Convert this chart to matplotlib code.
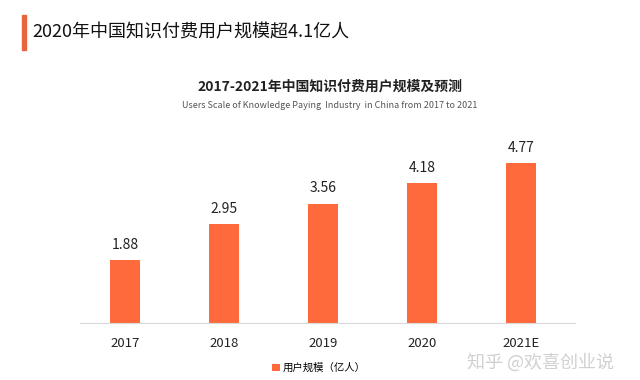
import matplotlib.pyplot as plt

plt.rcParams['font.family'] = ['Noto Sans CJK SC', 'DejaVu Sans']

# 数据
years = ['2017', '2018', '2019', '2020', '2021E']
users = [1.88, 2.95, 3.56, 4.18, 4.77]
bar_color = '#FF6A3C'

fig = plt.figure(figsize=(6.4, 3.8), dpi=100)

# 顶部标题和左侧橙色竖条
fig.patches.append(plt.Rectangle((22 / 640, 1 - 50 / 380), 4 / 640, 35 / 380,
                                 transform=fig.transFigure, color='#E8643C'))
fig.text(32 / 640, 1 - 32 / 380, '2020年中国知识付费用户规模超4.1亿人',
         fontsize=13, fontweight='medium', color='#111111', va='center', ha='left')

fig.text(330 / 640, 1 - 87 / 380, '2017-2021年中国知识付费用户规模及预测',
         fontsize=10, fontweight='bold', color='#222222', ha='center', va='center')
fig.text(330 / 640, 1 - 105 / 380,
         'Users Scale of Knowledge Paying  Industry  in China from 2017 to 2021',
         fontsize=6.5, color='#555555', ha='center', va='center')

# 主图
ax = fig.add_axes([80 / 640, 1 - 323 / 380, 495 / 640, 200 / 380])
x = range(len(years))
bars = ax.bar(x, users, width=0.3, color=bar_color, label='用户规模（亿人）')
for xi, v in zip(x, users):
    ax.text(xi, v + 0.25, f'{v:.2f}', ha='center', va='bottom', fontsize=10, color='#222222')

ax.set_xlim(-0.455, 4.545)
ax.set_ylim(0, 200 / 33.5)
ax.set_xticks(list(x))
ax.set_xticklabels(years, fontsize=9.5, color='#222222')
ax.tick_params(axis='x', length=0, pad=10)
ax.set_yticks([])
for s in ['top', 'right', 'left']:
    ax.spines[s].set_visible(False)
ax.spines['bottom'].set_color('#D9D9D9')

ax.legend(loc='center', bbox_to_anchor=(319 / 640, 1 - 368 / 380),
          bbox_transform=fig.transFigure, frameon=False,
          fontsize=7.5, handlelength=0.7, handleheight=0.7, handletextpad=0.3)

# 水印（略下移以免压住 2021E）
fig.text(467 / 640, 1 - 362 / 380, '知乎 @欢喜创业说', fontsize=13,
         color='#C8C8C8', alpha=0.85, ha='left', va='center')

fig.savefig('out.png', dpi=100)
